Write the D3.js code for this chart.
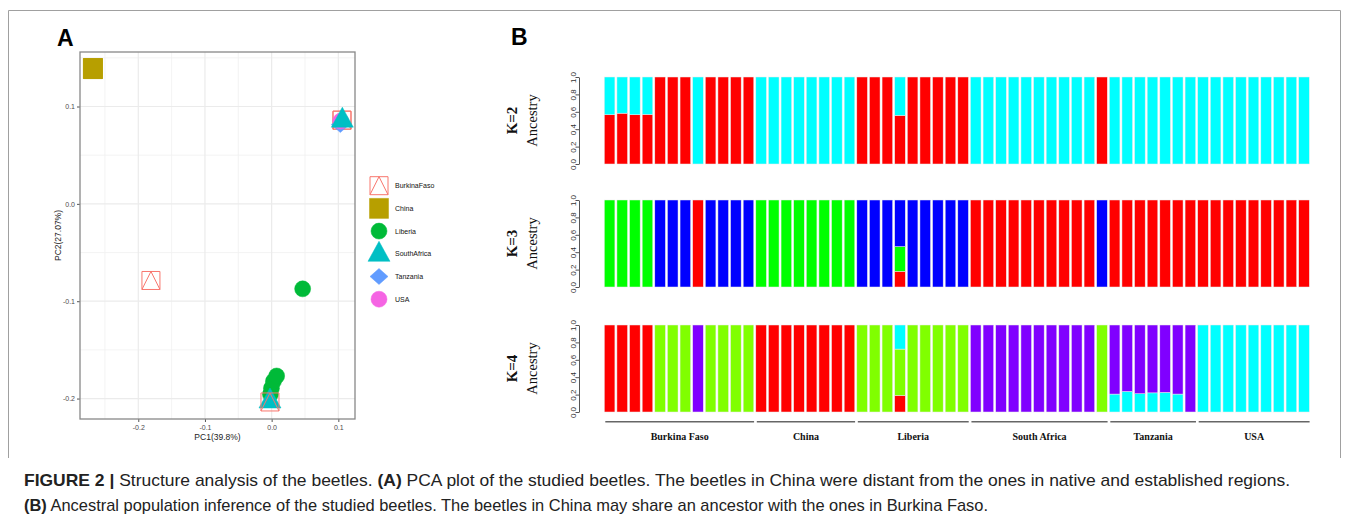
<!DOCTYPE html>
<html lang="en">
<head>
<meta charset="UTF-8">
<title>Structure analysis of the beetles</title>
<script src="https://cdn.jsdelivr.net/npm/d3@7"></script>
<style>
  body { margin: 0; background: #fff; }
  svg { display: block; }
  .tickA text { font: 7px "Liberation Sans", Arial, sans-serif; fill: #4d4d4d; }
  .tickA line { stroke: #555; }
  .titleA { font: 8.5px "Liberation Sans", Arial, sans-serif; fill: #222; }
  .legendA { font: 7px "Liberation Sans", Arial, sans-serif; fill: #111; }
  .tickB text { font: 8px "Liberation Sans", Arial, sans-serif; fill: #333; }
  .tickB line, .tickB path { stroke: #555; }
  .rowK { font: bold 15px "Liberation Serif", "Times New Roman", serif; fill: #111; }
  .rowAnc { font: 14.5px "Liberation Serif", "Times New Roman", serif; fill: #111; }
  .grpLabel { font: bold 10px "Liberation Serif", "Times New Roman", serif; fill: #111; }
  .panelLetter { font: bold 23px "Liberation Sans", Arial, sans-serif; fill: #000; }
  .caption { font: 17px "Liberation Sans", Arial, sans-serif; fill: #222; }
</style>
</head>
<body>
<svg id="fig" width="1355" height="525"></svg>
<script>
// ---- panel A: PCA ----
const populations = ["BurkinaFaso", "China", "Liberia", "SouthAfrica", "Tanzania", "USA"];
const popColors = ["#F8766D", "#B79F00", "#00BA38", "#00BFC4", "#619CFF", "#F564E3"];
const popShapes = ["squareTriangle", "square", "circle", "triangle", "diamond", "circle"];

// points in drawing order
const pcaPoints = [
  {pop: "BurkinaFaso", pc1: 0.1055, pc2: 0.0860},
  {pop: "BurkinaFaso", pc1: 0.1055, pc2: 0.0860},
  {pop: "China", pc1: -0.268, pc2: 0.139},
  {pop: "China", pc1: -0.268, pc2: 0.139},
  {pop: "China", pc1: -0.268, pc2: 0.139},
  {pop: "BurkinaFaso", pc1: -0.181, pc2: -0.0787},
  {pop: "Liberia", pc1: 0.0465, pc2: -0.0873},
  {pop: "Liberia", pc1: -0.0018, pc2: -0.1956},
  {pop: "Liberia", pc1: -0.0003, pc2: -0.1894},
  {pop: "Liberia", pc1: 0.0027, pc2: -0.1822},
  {pop: "Liberia", pc1: 0.0075, pc2: -0.1768},
  {pop: "Tanzania", pc1: 0.1030, pc2: 0.0815},
  {pop: "USA", pc1: 0.1035, pc2: 0.0850},
  {pop: "SouthAfrica", pc1: 0.1060, pc2: 0.0865},
  {pop: "SouthAfrica", pc1: -0.0025, pc2: -0.2020},
  {pop: "BurkinaFaso", pc1: -0.0025, pc2: -0.2035}
];

const pcMajorTicks = [-0.2, -0.1, 0.0, 0.1];
const pc1MinorTicks = [-0.25, -0.15, -0.05, 0.05];
const pc2MinorTicks = [-0.15, -0.05, 0.05, 0.15];

// ---- panel B: ancestry (Q values, clusters stacked from the bottom) ----
const groupNames = ["Burkina Faso", "China", "Liberia", "South Africa", "Tanzania", "USA"];
const groupSizes = [12, 8, 9, 11, 7, 9];

const qK2 = [
  [.566,.434],[.584,.416],[.566,.434],[.57,.43],[1,0],[1,0],[1,0],[0,1],[1,0],[1,0],[1,0],[1,0],
  [0,1],[0,1],[0,1],[0,1],[0,1],[0,1],[0,1],[0,1],
  [1,0],[1,0],[1,0],[.558,.442],[1,0],[1,0],[1,0],[1,0],[1,0],
  [0,1],[0,1],[0,1],[0,1],[0,1],[0,1],[0,1],[0,1],[0,1],[0,1],[1,0],
  [0,1],[0,1],[0,1],[0,1],[0,1],[0,1],[0,1],
  [0,1],[0,1],[0,1],[0,1],[0,1],[0,1],[0,1],[0,1],[0,1]
];
const qK3 = [
  [0,1,0],[0,1,0],[0,1,0],[0,1,0],[0,0,1],[0,0,1],[0,0,1],[1,0,0],[0,0,1],[0,0,1],[0,0,1],[0,0,1],
  [0,1,0],[0,1,0],[0,1,0],[0,1,0],[0,1,0],[0,1,0],[0,1,0],[0,1,0],
  [0,0,1],[0,0,1],[0,0,1],[.18,.284,.536],[0,0,1],[0,0,1],[0,0,1],[0,0,1],[0,0,1],
  [1,0,0],[1,0,0],[1,0,0],[1,0,0],[1,0,0],[1,0,0],[1,0,0],[1,0,0],[1,0,0],[1,0,0],[0,0,1],
  [1,0,0],[1,0,0],[1,0,0],[1,0,0],[1,0,0],[1,0,0],[1,0,0],
  [1,0,0],[1,0,0],[1,0,0],[1,0,0],[1,0,0],[1,0,0],[1,0,0],[1,0,0],[1,0,0]
];
const qK4 = [
  [1,0,0,0],[1,0,0,0],[1,0,0,0],[1,0,0,0],[0,1,0,0],[0,1,0,0],[0,1,0,0],[0,0,0,1],
  [0,1,0,0],[0,1,0,0],[0,1,0,0],[0,1,0,0],
  [1,0,0,0],[1,0,0,0],[1,0,0,0],[1,0,0,0],[1,0,0,0],[1,0,0,0],[1,0,0,0],[1,0,0,0],
  [0,1,0,0],[0,1,0,0],[0,1,0,0],[.19,.533,.277,0],[0,1,0,0],[0,1,0,0],[0,1,0,0],[0,1,0,0],[0,1,0,0],
  [0,0,0,1],[0,0,0,1],[0,0,0,1],[0,0,0,1],[0,0,0,1],[0,0,0,1],[0,0,0,1],[0,0,0,1],[0,0,0,1],[0,0,0,1],[0,1,0,0],
  [0,0,.206,.794],[0,0,.236,.764],[0,0,.21,.79],[0,0,.22,.78],[0,0,.225,.775],[0,0,.206,.794],[0,0,0,1],
  [0,0,1,0],[0,0,1,0],[0,0,1,0],[0,0,1,0],[0,0,1,0],[0,0,1,0],[0,0,1,0],[0,0,1,0],[0,0,1,0]
];
const kLabels = ["K=2", "K=3", "K=4"];
const kColors = [
  ["#FF0000", "#00FFFF"],
  ["#FF0000", "#00FF00", "#0000FF"],
  ["#FF0000", "#80FF00", "#00FFFF", "#8000FF"]
];
const ancestryTicks = [0, 0.2, 0.4, 0.6, 0.8, 1.0];

const svg = d3.select("#fig");

// figure frame
svg.append("path")
  .attr("d", "M8.5,458V10.5H1340.5V458")
  .attr("fill", "none").attr("stroke", "#a0a0a0");

// ================= panel A =================
const xA = d3.scaleLinear().domain([-0.2874, 0.125]).range([80, 355]);
const yA = d3.scaleLinear().domain([-0.221, 0.156]).range([419, 52]);

const gA = svg.append("g");

gA.selectAll(".vminor").data(pc1MinorTicks).join("line")
  .attr("x1", d => xA(d)).attr("x2", d => xA(d)).attr("y1", 52).attr("y2", 419)
  .attr("stroke", "#f0f0f0").attr("stroke-width", 0.8);
gA.selectAll(".hminor").data(pc2MinorTicks).join("line")
  .attr("y1", d => yA(d)).attr("y2", d => yA(d)).attr("x1", 80).attr("x2", 355)
  .attr("stroke", "#f0f0f0").attr("stroke-width", 0.8);
gA.selectAll(".vmajor").data(pcMajorTicks).join("line")
  .attr("x1", d => xA(d)).attr("x2", d => xA(d)).attr("y1", 52).attr("y2", 419)
  .attr("stroke", "#ebebeb").attr("stroke-width", 1.2);
gA.selectAll(".hmajor").data(pcMajorTicks).join("line")
  .attr("y1", d => yA(d)).attr("y2", d => yA(d)).attr("x1", 80).attr("x2", 355)
  .attr("stroke", "#ebebeb").attr("stroke-width", 1.2);

const fmt1 = d => d.toFixed(1);
gA.append("g").attr("class", "tickA").attr("transform", "translate(0,419)")
  .call(d3.axisBottom(xA).tickValues(pcMajorTicks).tickSize(3).tickPadding(3).tickFormat(fmt1))
  .call(g => g.select(".domain").remove());
gA.append("g").attr("class", "tickA").attr("transform", "translate(80,0)")
  .call(d3.axisLeft(yA).tickValues(pcMajorTicks).tickSize(3).tickPadding(2).tickFormat(fmt1))
  .call(g => g.select(".domain").remove());

gA.append("rect").attr("x", 80).attr("y", 52).attr("width", 275).attr("height", 367)
  .attr("fill", "none").attr("stroke", "#888").attr("stroke-width", 1.3);

gA.append("text").attr("class", "titleA").attr("x", 217.5).attr("y", 440)
  .attr("text-anchor", "middle").text("PC1(39.8%)");
gA.append("text").attr("class", "titleA")
  .attr("transform", "translate(61,235.5) rotate(-90)")
  .attr("text-anchor", "middle").text("PC2(27.07%)");

function shapePath(shape) {
  switch (shape) {
    case "squareTriangle": return "M-9,-9H9V9H-9Z M-9,9L0,-9L9,9";
    case "square": return "M-9.5,-10H9.5V10H-9.5Z";
    case "circle": return "M8,0A8,8 0 1,1 -8,0A8,8 0 1,1 8,0Z";
    case "triangle": return "M0,-12.5L11,7.5H-11Z";
    case "diamond": return "M0,-8L9,0L0,8L-9,0Z";
  }
}
function drawSymbol(g, pop) {
  const i = populations.indexOf(pop);
  const hollow = popShapes[i] === "squareTriangle";
  g.append("path").attr("d", shapePath(popShapes[i]))
    .attr("fill", hollow ? "none" : popColors[i])
    .attr("stroke", popColors[i])
    .attr("stroke-width", hollow ? 1 : 0.5)
    .attr("stroke-linejoin", "round");
}

gA.selectAll(".pt").data(pcaPoints).join("g")
  .attr("transform", d => `translate(${xA(d.pc1)},${yA(d.pc2)})`)
  .each(function (d) { drawSymbol(d3.select(this), d.pop); });

const legend = gA.append("g");
populations.forEach((p, i) => {
  const y = 185.7 + i * 22.7;
  const g = legend.append("g").attr("transform", `translate(379,${y})`);
  drawSymbol(g, p);
  legend.append("text").attr("class", "legendA").attr("x", 395).attr("y", y)
    .attr("dy", "0.35em").text(p);
});

svg.append("text").attr("class", "panelLetter").attr("x", 57).attr("y", 46).text("A");
svg.append("text").attr("class", "panelLetter").attr("x", 511).attr("y", 45).text("B");

// ================= panel B =================
const sampleIdx = d3.range(qK2.length);
const xB = d3.scaleBand().domain(sampleIdx).range([604.3, 1309.3])
  .paddingInner(0.16).paddingOuter(0);

const rowTops = [77, 200, 325];
const rowH = 87;
[qK2, qK3, qK4].forEach((q, r) => {
  const top = rowTops[r];
  const yB = d3.scaleLinear().domain([0, 1]).range([top + rowH, top]);
  const k = q[0].length;
  const series = d3.stack().keys(d3.range(k))(q);
  const g = svg.append("g");

  g.selectAll("g.layer").data(series).join("g")
    .attr("fill", (d, i) => kColors[r][i])
    .selectAll("rect").data(d => d.map((v, j) => ({v, j})).filter(e => e.v[1] - e.v[0] > 0))
    .join("rect")
    .attr("x", e => xB(e.j))
    .attr("width", xB.bandwidth())
    .attr("y", e => yB(e.v[1]))
    .attr("height", e => yB(e.v[0]) - yB(e.v[1]))
    .attr("stroke", "#ececec").attr("stroke-width", 0.5);

  const ax = g.append("g").attr("class", "tickB").attr("transform", "translate(579,0)")
    .call(d3.axisLeft(yB).tickValues(ancestryTicks).tickSize(3).tickSizeOuter(0).tickFormat(fmt1));
  ax.selectAll(".tick text")
    .attr("x", 0).attr("dy", 0)
    .attr("transform", "translate(-3.5,0) rotate(-90)")
    .style("text-anchor", "middle");

  const cy = top + rowH / 2;
  g.append("text").attr("class", "rowK")
    .attr("transform", `translate(512,${cy}) rotate(-90)`)
    .attr("dy", "0.35em").attr("text-anchor", "middle").text(kLabels[r]);
  g.append("text").attr("class", "rowAnc")
    .attr("transform", `translate(532,${cy}) rotate(-90)`)
    .attr("dy", "0.35em").attr("text-anchor", "middle").text("Ancestry");
});

// population brackets
let start = 0;
groupNames.forEach((name, i) => {
  const first = start, last = start + groupSizes[i] - 1;
  const x0 = xB(first) + 1, x1 = xB(last) + xB.bandwidth() + 0.3;
  svg.append("line").attr("x1", x0).attr("x2", x1).attr("y1", 421.7).attr("y2", 421.7)
    .attr("stroke", "#666").attr("stroke-width", 1.4);
  svg.append("text").attr("class", "grpLabel").attr("x", (x0 + x1) / 2).attr("y", 440)
    .attr("text-anchor", "middle").text(name);
  start += groupSizes[i];
});

// ================= caption =================
const cap1 = svg.append("text").attr("class", "caption").attr("x", 24).attr("y", 486)
  .attr("textLength", 1266).attr("lengthAdjust", "spacingAndGlyphs");
cap1.append("tspan").attr("font-weight", "bold").text("FIGURE 2 |");
cap1.append("tspan").text(" Structure analysis of the beetles. ");
cap1.append("tspan").attr("font-weight", "bold").text("(A)");
cap1.append("tspan").text(" PCA plot of the studied beetles. The beetles in China were distant from the ones in native and established regions.");

const cap2 = svg.append("text").attr("class", "caption").attr("x", 24).attr("y", 511)
  .attr("textLength", 964).attr("lengthAdjust", "spacingAndGlyphs");
cap2.append("tspan").attr("font-weight", "bold").text("(B)");
cap2.append("tspan").text(" Ancestral population inference of the studied beetles. The beetles in China may share an ancestor with the ones in Burkina Faso.");
</script>
</body>
</html>
